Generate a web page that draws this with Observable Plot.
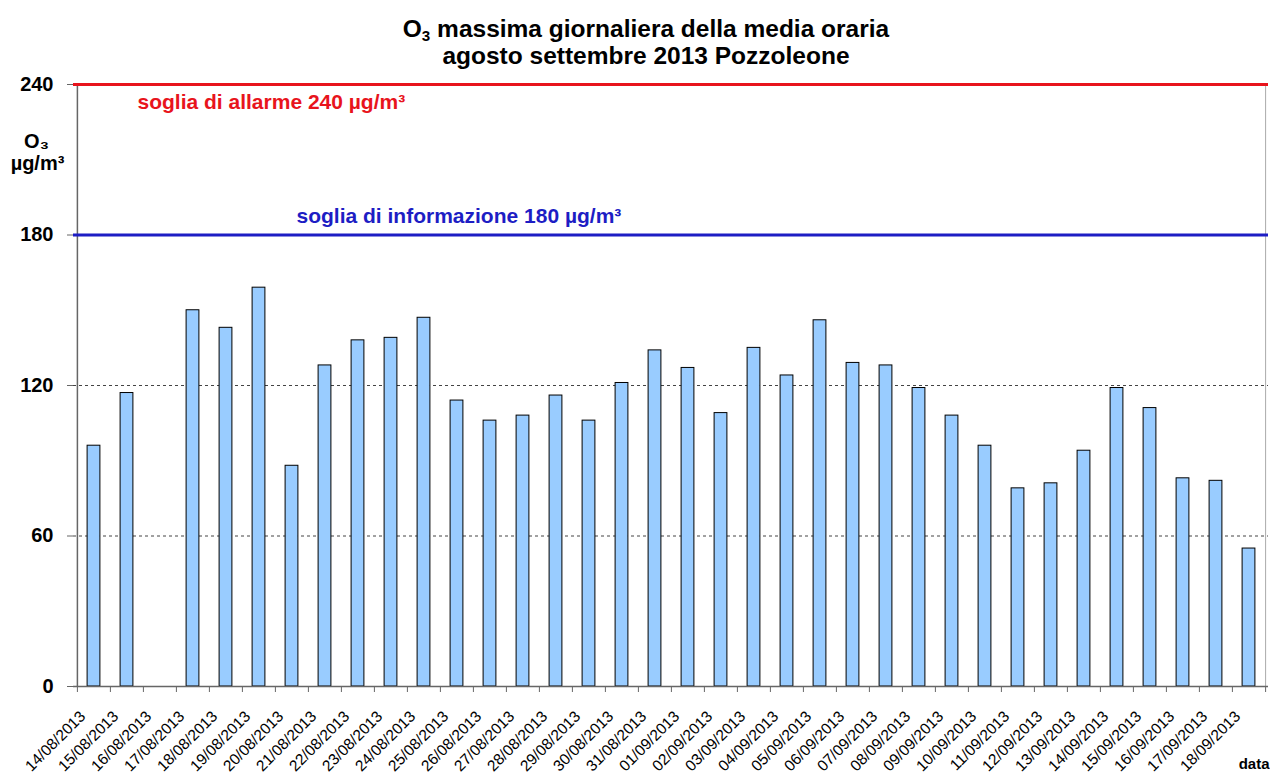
<!DOCTYPE html>
<html>
<head>
<meta charset="utf-8">
<script src="https://cdn.jsdelivr.net/npm/d3@7"></script>
<script src="https://cdn.jsdelivr.net/npm/@observablehq/plot@0.6"></script>
<style>
  body { margin: 0; background: #fff; font-family: "Liberation Sans", Arial, sans-serif; overflow: hidden; }
  #title { width: 1270px; height: 70px; box-sizing: border-box; padding-left: 22px; padding-top: 15px;
           text-align: center; font-weight: bold; font-size: 24.5px; line-height: 27px; color: #000; }
  #title sub { font-size: 0.62em; vertical-align: -0.28em; line-height: 0; }
</style>
</head>
<body>
<div id="title">
  <div>O<sub>3</sub> massima giornaliera della media oraria</div>
  <div>agosto settembre 2013 Pozzoleone</div>
</div>
<div id="chart"></div>
<script>
const dates = [
  "14/08/2013","15/08/2013","16/08/2013","17/08/2013","18/08/2013","19/08/2013",
  "20/08/2013","21/08/2013","22/08/2013","23/08/2013","24/08/2013","25/08/2013",
  "26/08/2013","27/08/2013","28/08/2013","29/08/2013","30/08/2013","31/08/2013",
  "01/09/2013","02/09/2013","03/09/2013","04/09/2013","05/09/2013","06/09/2013",
  "07/09/2013","08/09/2013","09/09/2013","10/09/2013","11/09/2013","12/09/2013",
  "13/09/2013","14/09/2013","15/09/2013","16/09/2013","17/09/2013","18/09/2013"
];
const values = [
  96, 117, null, 150, 143, 159,
  88, 128, 138, 139, 147, 114,
  106, 108, 116, 106, 121, 134,
  127, 109, 135, 124, 146, 129,
  128, 119, 108, 96, 79, 81,
  94, 119, 111, 83, 82, 55
];
const yTicks = [0, 60, 120, 180, 240];
const gridValues = [60, 120];
const thresholdValues = [240, 180];
const thresholdLabels = ["soglia di allarme 240 µg/m³", "soglia di informazione 180 µg/m³"];
const yTitle = ["O₃", "µg/m³"];
const xTitle = ["data"];

const W = 1270, H = 704, mL = 73, mR = 2, mT = 14, mB = 88;
const step = (W - mL - mR) / dates.length;
const data = dates.map((d, i) => ({date: d, value: values[i]}));
const thresholds = thresholdValues.map((v, i) => ({value: v, label: thresholdLabels[i]}));
const RED = "#e8141c", BLUE = "#1d1dc4", AXIS = "#666";

const chart = Plot.plot({
  width: W, height: H,
  marginLeft: mL, marginRight: mR, marginTop: mT, marginBottom: mB,
  style: {fontFamily: "'Liberation Sans', Arial, sans-serif", background: "#fff", overflow: "visible", color: "#000"},
  x: {type: "band", domain: dates, padding: 0, label: null},
  y: {domain: [0, 240], label: null},
  marks: [
    Plot.ruleY(gridValues, {stroke: "#444", strokeWidth: 1, strokeDasharray: "3,3"}),
    Plot.barY(data, {x: "date", y: "value", fill: "#99ccff", stroke: "#000", strokeWidth: 1, insetLeft: 10.1, insetRight: 10.1}),
    Plot.ruleX([dates[dates.length - 1]], {dx: step / 2, y1: 0, y2: 240, stroke: "#aaa", strokeWidth: 1}),
    Plot.ruleY([0], {stroke: AXIS, strokeWidth: 1.5}),
    Plot.ruleX([dates[0]], {dx: -step / 2, y1: 0, y2: 240, stroke: AXIS, strokeWidth: 1.5}),
    Plot.ruleY([thresholds[1].value], {stroke: BLUE, strokeWidth: 3}),
    Plot.ruleY([thresholds[0].value], {stroke: RED, strokeWidth: 3}),
    Plot.text([thresholds[0]], {y: "value", text: "label", frameAnchor: "left", textAnchor: "start", lineAnchor: "bottom",
      dx: 64, dy: 24, fill: RED, fontSize: 21, fontWeight: "bold"}),
    Plot.text([thresholds[1]], {y: "value", text: "label", frameAnchor: "left", textAnchor: "start", lineAnchor: "bottom",
      dx: 223, dy: -12, fill: BLUE, fontSize: 21, fontWeight: "bold"}),
    Plot.axisY(yTicks, {label: null, tickSize: 6, tickPadding: 14, fontSize: 20, fontWeight: "bold", stroke: AXIS}),
    Plot.axisX(dates, {label: null, tickSize: 6, dx: -step / 2, tickFormat: () => "", stroke: AXIS}),
    Plot.axisX([dates[dates.length - 1]], {label: null, tickSize: 6, dx: step / 2, tickFormat: () => "", stroke: AXIS}),
    Plot.text(dates, {x: d => d, frameAnchor: "bottom", rotate: -45, textAnchor: "end", lineAnchor: "top",
      dx: -15.5, dy: 23, fontSize: 15.5, fill: "#000"}),
    Plot.text([yTitle[0]], {frameAnchor: "top-left", textAnchor: "middle", lineAnchor: "bottom",
      dx: -37, dy: 63, fontSize: 20, fontWeight: "bold"}),
    Plot.text([yTitle[1]], {frameAnchor: "top-left", textAnchor: "middle", lineAnchor: "bottom",
      dx: -36, dy: 85, fontSize: 20, fontWeight: "bold"}),
    Plot.text(xTitle, {frameAnchor: "bottom-right", textAnchor: "end", lineAnchor: "bottom",
      dx: 1, dy: 82, fontSize: 15, fontWeight: "bold"})
  ]
});
document.getElementById("chart").appendChild(chart);
</script>
</body>
</html>
